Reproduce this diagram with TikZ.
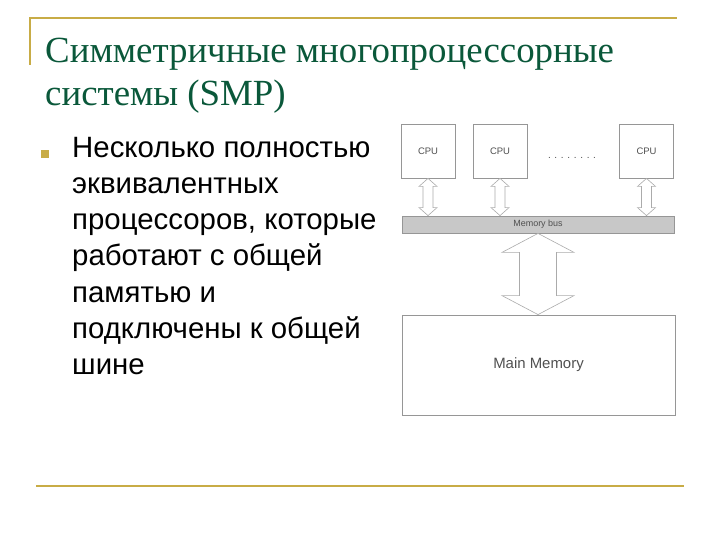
\documentclass[tikz,border=0pt]{standalone}
\usepackage{fontspec}
\usetikzlibrary{calc}
\newfontfamily\titlefont{Liberation Serif}
\newfontfamily\bodyfont{Liberation Sans}
\definecolor{slidegold}{RGB}{200,172,70}
\definecolor{titlegreen}{RGB}{10,88,58}
\definecolor{boxgray}{RGB}{150,150,150}
\definecolor{busgray}{RGB}{200,200,200}
\definecolor{labelgray}{RGB}{80,80,80}

\tikzset{
  unitbox/.style={draw=boxgray,line width=0.8bp,fill=white,inner sep=0pt},
  cpubox/.style={unitbox,minimum width=54bp,minimum height=54bp,font=\bodyfont\fontsize{9.5}{10}\selectfont,text=labelgray},
  arrowline/.style={draw=boxgray!80,line width=0.6bp,fill=white},
  titleline/.style={anchor=base west,inner sep=0pt,text=titlegreen,font=\titlefont\fontsize{37}{40}\selectfont},
  bodyline/.style={anchor=base west,font=\bodyfont\fontsize{29.5}{32}\selectfont,inner sep=0pt}
}

% double arrow between two points: half shaft, half head, head length
\newcommand{\biarrow}[5]{%
  \draw[arrowline] let \p1=(#1), \p2=(#2) in
    (\x1,\y1) -- (\x1+#4,\y1-#5) -- (\x1+#3,\y1-#5) -- (\x1+#3,\y2+#5)
    -- (\x1+#4,\y2+#5) -- (\x1,\y2) -- (\x1-#4,\y2+#5) -- (\x1-#3,\y2+#5)
    -- (\x1-#3,\y1-#5) -- (\x1-#4,\y1-#5) -- cycle;}

\begin{document}
\begin{tikzpicture}[x=1bp,y=-1bp]
\useasboundingbox[fill=white] (0,0) rectangle (720,540);

% frame lines
\draw[slidegold,line width=1.6bp] (30,65) -- (30,18) -- (677,18);
\draw[slidegold,line width=1.6bp] (36,486) -- (684,486);

% title
\node[titleline] (title1) at (45,63) {Симметричные многопроцессорные};
\node[titleline] (title2) at (45,106) {системы (SMP)};

% bullet text
\fill[slidegold] (41,150) rectangle (49,158);
\node[bodyline] (l1) at (72,158) {Несколько полностью};
\node[bodyline] (l2) at (72,194) {эквивалентных};
\node[bodyline] (l3) at (72,230) {процессоров, которые};
\node[bodyline] (l4) at (72,266) {работают с общей};
\node[bodyline] (l5) at (72,302) {памятью и};
\node[bodyline] (l6) at (72,338) {подключены к общей};
\node[bodyline] (l7) at (72,374) {шине};

% diagram
\node[cpubox] (cpu1) at (428,151) {CPU};
\node[cpubox] (cpu2) at (500,151) {CPU};
\node[cpubox] (cpu3) at (646.5,151) {CPU};
\node[text=labelgray,font=\bodyfont\fontsize{10}{10}\selectfont] (dots) at (572,158) {. . . . . . . .};
\node[unitbox,fill=busgray,minimum width=272bp,minimum height=17bp,font=\bodyfont\fontsize{9}{10}\selectfont,text=labelgray] (bus) at (538,224.5) {Memory bus};
\node[unitbox,minimum width=273bp,minimum height=100bp,font=\bodyfont\fontsize{15}{16}\selectfont,text=labelgray] (mem) at (538.5,365) {Main Memory};

\biarrow{cpu1.south}{cpu1.south |- bus.north}{5bp}{9bp}{8bp}
\biarrow{cpu2.south}{cpu2.south |- bus.north}{5bp}{9bp}{8bp}
\biarrow{cpu3.south}{cpu3.south |- bus.north}{5bp}{9bp}{8bp}
\biarrow{bus.south}{bus.south |- mem.north}{18.5bp}{36bp}{19bp}

\end{tikzpicture}
\end{document}
